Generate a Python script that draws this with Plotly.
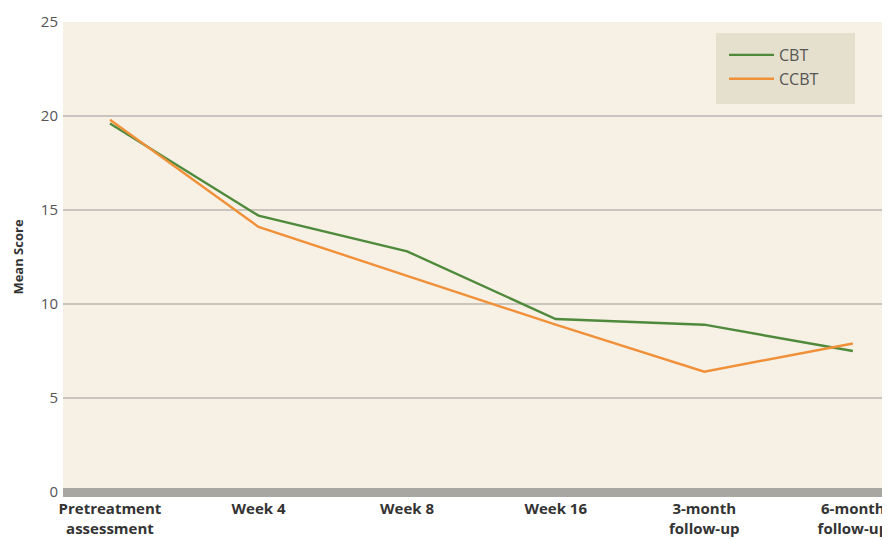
import plotly.graph_objects as go

categories = ["Pretreatment<br>assessment", "Week 4", "Week 8", "Week 16", "3-month<br>follow-up", "6-month<br>follow-up"]
cbt = [19.6, 14.7, 12.8, 9.2, 8.9, 7.5]
ccbt = [19.8, 14.1, 11.5, 8.9, 6.4, 7.9]
y_ticks = [0, 5, 10, 15, 20, 25]

x_idx = list(range(len(categories)))

# the page body has an 8px default margin; figure is sized to fill the rest
OFF = 8
W, H = 890 - OFF, 540 - OFF
L, R, T, B = 63 - OFF, 0, 22 - OFF, 48
pw, ph = W - L - R, H - T - B

def px_x(p):
    return (p - OFF - L) / pw

def px_y(p):
    return (H - B - (p - OFF)) / ph

fig = go.Figure()
fig.add_trace(go.Scatter(x=x_idx, y=cbt, mode="lines", name="CBT",
                         line=dict(color="#4f8a3c", width=2.4)))
fig.add_trace(go.Scatter(x=x_idx, y=ccbt, mode="lines", name="CCBT",
                         line=dict(color="#f0913a", width=2.4)))

# legend background box
fig.add_shape(type="rect", xref="paper", yref="paper",
              x0=px_x(716), x1=px_x(855), y0=px_y(104), y1=px_y(33),
              fillcolor="#e5e0cd", line=dict(width=0), layer="below")

fig.update_layout(
    width=W, height=H,
    margin=dict(l=L, r=R, t=T, b=B, autoexpand=False),
    paper_bgcolor="white",
    plot_bgcolor="#f6f0e5",
    font=dict(family="Open Sans, sans-serif", color="#555555"),
    showlegend=True,
    legend=dict(x=px_x(724), y=px_y(38), xanchor="left", yanchor="top",
                bgcolor="rgba(0,0,0,0)", borderwidth=0,
                font=dict(size=16, color="#555555"),
                itemwidth=45),
    xaxis=dict(
        tickmode="array", tickvals=x_idx, ticktext=["<b>%s</b>" % c for c in categories],
        range=[-0.316, 5.25], showgrid=False, zeroline=False, showline=False,
        ticks="", tickfont=dict(size=15, color="#333333"), ticklabelstandoff=6,
        automargin=False,
    ),
    yaxis=dict(
        tickmode="array", tickvals=y_ticks, range=[0, 25],
        showgrid=True, gridcolor="#c9c5bd", gridwidth=2,
        zeroline=True, zerolinecolor="#a9a7a2", zerolinewidth=9,
        showline=False, ticks="", tickfont=dict(size=15, color="#555555"),
        ticklabelstandoff=4, automargin=False,
        title=dict(text="<b>Mean Score</b>", font=dict(size=13, color="#333333"), standoff=14),
    ),
)

fig.write_html("out.html")
